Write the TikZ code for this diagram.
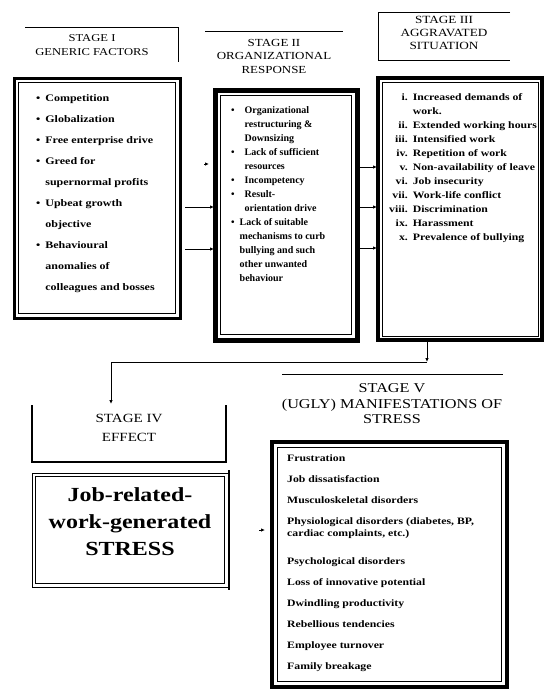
\documentclass[tikz,border=0pt]{standalone}
\usepackage{fontspec}
\setmainfont{Liberation Serif}
\newfontfamily\stretchfont[FakeStretch=1.2]{Liberation Serif}
\usetikzlibrary{arrows.meta}
\tikzset{
  x=1pt, y=-1pt,
  thickbox/.style={draw, line width=#1, inner sep=0pt},
  thinline/.style={line width=0.9pt},
  arr/.style={line width=0.9pt, -{Latex[length=4pt,width=3.5pt]}},
  hdr/.style={align=center, inner sep=0pt},
  itemtxt/.style={anchor=north west, inner sep=0pt, align=left},
}
\begin{document}
\begin{tikzpicture}
\useasboundingbox (0,0) rectangle (544,689);

% ---------- Stage I ----------
\draw[thinline] (25,27) -- (178,27) -- (178,62);
\node[hdr, font=\stretchfont\fontsize{10.5}{14}\selectfont] (h1) at (92,45) {STAGE I\\GENERIC FACTORS};
\node[thickbox=3pt, minimum width=166, minimum height=240] (s1) at (97,198) {};
\draw[line width=0.8pt] ([shift={(6,6)}]s1.north west) rectangle ([shift={(-6,-6)}]s1.south east);
\node[itemtxt, font=\stretchfont\bfseries\fontsize{10}{21}\selectfont] (t1) at (36,87) {%
\begin{tabular}{@{}l@{\hspace{5pt}}l@{}}
\textbullet & Competition\\
\textbullet & Globalization\\
\textbullet & Free enterprise drive\\
\textbullet & Greed for\\
 & supernormal profits\\
\textbullet & Upbeat growth\\
 & objective\\
\textbullet & Behavioural\\
 & anomalies of\\
 & colleagues and bosses
\end{tabular}};

% ---------- Stage II ----------
\draw[thinline] (205,31) -- (343,31);
\node[hdr, font=\stretchfont\fontsize{10.8}{13.5}\selectfont] (h2) at (274,56) {STAGE II\\ORGANIZATIONAL\\RESPONSE};
\node[thickbox=5pt, minimum width=142, minimum height=250] (s2) at (286,215) {};
\draw[line width=0.8pt] ([shift={(8,8)}]s2.north west) rectangle ([shift={(-8,-8)}]s2.south east);
\node[itemtxt, font=\bfseries\fontsize{10}{14}\selectfont] (t2) at (231,103.5) {%
\begin{tabular}{@{}l@{\hspace{10pt}}l@{}}
\textbullet & Organizational\\
 & restructuring \&\\
 & Downsizing\\
\textbullet & Lack of sufficient\\
 & resources\\
\textbullet & Incompetency\\
\textbullet & Result-\\
 & orientation drive
\end{tabular}\\[-1pt]
\begin{tabular}{@{}l@{\hspace{5pt}}l@{}}
\textbullet & Lack of suitable\\
 & mechanisms to curb\\
 & bullying and such\\
 & other unwanted\\
 & behaviour
\end{tabular}};

% arrows I -> II
\coordinate (a1s) at (185,207); \coordinate (a1e) at (214,207);
\coordinate (a2s) at (185,249); \coordinate (a2e) at (214,249);
\coordinate (a0s) at (204,164); \coordinate (a0e) at (209,164);
\draw[arr] (a1s) -- (a1e);
\draw[arr] (a2s) -- (a2e);
\draw[arr] (a0s) -- (a0e);

% ---------- Stage III ----------
\draw[thinline] (510,12) -- (378,12) -- (378,60) -- (510,60);
\node[hdr, font=\stretchfont\fontsize{11}{13}\selectfont] (h3) at (444,33) {STAGE III\\AGGRAVATED\\SITUATION};
\node[thickbox=4pt, minimum width=164, minimum height=262] (s3) at (460,209) {};
\draw[line width=0.8pt] ([shift={(6,6)}]s3.north west) rectangle ([shift={(-6,-6)}]s3.south east);
\node[itemtxt, font=\stretchfont\bfseries\fontsize{9.8}{14}\selectfont] (t3) at (389,90.5) {%
\begin{tabular}{@{}r@{\hspace{5pt}}l@{}}
i. & Increased demands of\\
 & work.\\
ii. & Extended working hours\\
iii. & Intensified work\\
iv. & Repetition of work\\
v. & Non-availability of leave\\
vi. & Job insecurity\\
vii. & Work-life conflict\\
viii. & Discrimination\\
ix. & Harassment\\
x. & Prevalence of bullying
\end{tabular}};

% arrows II -> III
\coordinate (b1s) at (360,167); \coordinate (b1e) at (377,167);
\coordinate (b2s) at (360,207); \coordinate (b2e) at (377,207);
\coordinate (b3s) at (360,248); \coordinate (b3e) at (377,248);
\draw[arr] (b1s) -- (b1e);
\draw[arr] (b2s) -- (b2e);
\draw[arr] (b3s) -- (b3e);

% ---------- connector III -> IV ----------
\coordinate (j) at (427,362);
\coordinate (k) at (111,362);
\coordinate (s4top) at (111,404);
\draw[arr] (s3.south -| j) -- (j);
\draw[arr] (j) -- (k) -- (s4top);

% ---------- Stage IV ----------
\draw[line width=1.3pt] (32,405) -- (32,462) -- (226,462) -- (226,405);
\node[hdr, font=\stretchfont\fontsize{12.5}{19}\selectfont] (h4) at (129,428) {STAGE IV\\EFFECT};
\node[draw, line width=0.9pt, inner sep=0pt, minimum width=196, minimum height=114] (s4) at (130,530) {};
\draw[line width=0.8pt] ([shift={(4,4)}]s4.north west) rectangle ([shift={(-4,-4)}]s4.south east);
\draw[line width=1.6pt] (229,470) -- (229,590);
\node[hdr, font=\stretchfont\bfseries\fontsize{20}{27}\selectfont] (t4) at (130,522) {Job-related-\\work-generated\\STRESS};

% tiny arrow IV -> V
\coordinate (c1s) at (259,530); \coordinate (c1e) at (265,530);
\draw[arr] (c1s) -- (c1e);

% ---------- Stage V ----------
\draw[thinline] (282,374) -- (503,374);
\node[hdr, font=\stretchfont\fontsize{13.5}{15.5}\selectfont] (h5) at (392,404) {STAGE V\\(UGLY) MANIFESTATIONS OF\\STRESS};
\node[thickbox=3.5pt, minimum width=235, minimum height=245] (s5) at (389.5,564.5) {};
\draw[line width=0.8pt] ([shift={(7,7)}]s5.north west) rectangle ([shift={(-7,-7)}]s5.south east);
\node[itemtxt, font=\stretchfont\bfseries\fontsize{9.8}{21}\selectfont] (t5) at (287,454.5) {%
Frustration\\
Job dissatisfaction\\
Musculoskeletal disorders\\
Physiological disorders (diabetes, BP,\\[-9pt]
cardiac complaints, etc.)\\[7pt]
Psychological disorders\\
Loss of innovative potential\\
Dwindling productivity\\
Rebellious tendencies\\
Employee turnover\\
Family breakage};
\end{tikzpicture}
\end{document}
